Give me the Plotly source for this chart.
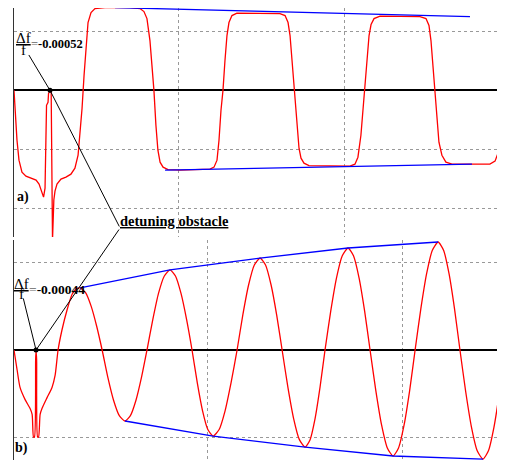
import plotly.graph_objects as go

# ---------------- Panel a) : square-like oscillation ----------------
a_t = [0.006, 0.012, 0.024, 0.036, 0.054, 0.078, 0.108, 0.139, 0.157, 0.175,
       0.184, 0.193, 0.199, 0.202, 0.211, 0.214, 0.223, 0.230, 0.238, 0.246,
       0.253, 0.265, 0.289, 0.319, 0.349, 0.373, 0.392, 0.404, 0.416, 0.428,
       0.440, 0.452, 0.470, 0.494, 0.554, 0.705, 0.765, 0.789, 0.807, 0.825,
       0.837, 0.849, 0.861, 0.873, 0.886, 0.904, 0.934, 1.006, 1.187, 1.211,
       1.229, 1.241, 1.253, 1.265, 1.277, 1.289, 1.301, 1.319, 1.349, 1.428,
       1.608, 1.639, 1.657, 1.669, 1.681, 1.696, 1.711, 1.723, 1.735, 1.753,
       1.783, 2.030, 2.060, 2.078, 2.096, 2.108, 2.120, 2.133, 2.145, 2.157,
       2.175, 2.211, 2.452, 2.488, 2.506, 2.518, 2.530, 2.542, 2.554, 2.566,
       2.584, 2.608, 2.645, 2.873, 2.904, 2.922, 2.940, 2.952, 2.964]
a_v = [0.000, -0.305, -0.847, -1.186, -1.390, -1.458, -1.492, -1.525, -1.593, -1.729,
       -1.814, -1.661, -1.017, -0.254, -0.203, -0.051, -0.017, -0.034, -2.542, -1.864,
       -1.712, -1.593, -1.508, -1.475, -1.424, -1.322, -1.102, -0.763, -0.305, 0.254,
       0.763, 1.153, 1.322, 1.390, 1.407, 1.407, 1.390, 1.339, 1.220, 0.847,
       0.424, 0.000, -0.593, -1.017, -1.220, -1.305, -1.347, -1.356, -1.339, -1.305,
       -1.186, -0.847, -0.339, 0.000, 0.508, 0.932, 1.153, 1.271, 1.314, 1.314,
       1.305, 1.271, 1.153, 0.932, 0.508, 0.000, -0.593, -0.983, -1.153, -1.237,
       -1.280, -1.288, -1.254, -1.136, -0.763, -0.339, 0.000, 0.508, 0.932, 1.119,
       1.220, 1.263, 1.254, 1.220, 1.102, 0.847, 0.424, 0.000, -0.508, -0.881,
       -1.102, -1.220, -1.254, -1.254, -1.203, -1.068, -0.678, -0.339, -0.169]
a_env_top_t = [0.614, 2.753]
a_env_top_v = [1.407, 1.254]
a_env_bot_t = [0.916, 2.765]
a_env_bot_v = [-1.356, -1.254]
a_obstacle_t = [0.223]
a_obstacle_v = [0.0]
a_label_tail = (0.090, 0.627)
a_junction = (0.645, -2.339)

# ---------------- Panel b) : growing sinusoidal oscillation ----------------
b_t = [0.010, 0.026, 0.041, 0.067, 0.092, 0.103, 0.110, 0.115, 0.121, 0.123,
       0.126, 0.131, 0.136, 0.144, 0.154, 0.179, 0.205, 0.221, 0.236, 0.256,
       0.282, 0.308, 0.328, 0.349,
       0.377, 0.4055, 0.434, 0.462, 0.491, 0.5205, 0.550, 0.579,
       0.607, 0.6355, 0.664, 0.692, 0.722, 0.751, 0.781, 0.810,
       0.838, 0.8665, 0.895, 0.923, 0.950, 0.977, 1.004, 1.031,
       1.062, 1.0925, 1.123, 1.154, 1.1835, 1.213, 1.2425, 1.272,
       1.300, 1.3285, 1.357, 1.385, 1.4145, 1.444, 1.4735, 1.503,
       1.5285, 1.554, 1.5795, 1.605, 1.6345, 1.664, 1.6935, 1.723,
       1.751, 1.7795, 1.808, 1.836, 1.8655, 1.895, 1.9245, 1.954,
       1.982, 2.0105, 2.039, 2.067, 2.0965, 2.126, 2.1555, 2.185,
       2.213, 2.241, 2.269, 2.297, 2.3265, 2.356, 2.3855, 2.415,
       2.443, 2.4715, 2.500, 2.528]
b_v = [0.000, -0.230, -0.430, -0.570, -0.670, -0.740, -1.000, -1.000, -0.110, -0.010,
       -0.110, -1.000, -1.000, -0.740, -0.670, -0.550, -0.430, -0.290, 0.000, 0.230,
       0.460, 0.640, 0.700, 0.713,
       0.659, 0.504, 0.273, 0.000, -0.312, -0.577, -0.754, -0.816,
       -0.754, -0.577, -0.312, 0.000, 0.352, 0.650, 0.850, 0.920,
       0.850, 0.650, 0.352, 0.000, -0.378, -0.699, -0.914, -0.989,
       -0.914, -0.699, -0.378, 0.000, 0.404, 0.747, 0.977, 1.057,
       0.977, 0.747, 0.404, 0.000, -0.427, -0.788, -1.030, -1.115,
       -1.030, -0.788, -0.427, 0.000, 0.449, 0.829, 1.083, 1.172,
       1.083, 0.829, 0.449, 0.000, -0.466, -0.861, -1.125, -1.218,
       -1.125, -0.861, -0.466, 0.000, 0.475, 0.877, 1.147, 1.241,
       1.147, 0.877, 0.475, 0.000, -0.480, -0.886, -1.158, -1.253,
       -1.158, -0.886, -0.480, 0.000]
b_peak_t = [0.349, 0.810, 1.272, 1.723, 2.185]
b_peak_v = [0.713, 0.920, 1.057, 1.172, 1.241]
b_trough_t = [0.579, 1.031, 1.503, 1.954, 2.415]
b_trough_v = [-0.816, -0.989, -1.115, -1.218, -1.253]
b_obstacle_t = [0.123]
b_obstacle_v = [0.0]
b_label_tail = (0.056, 0.609)
b_junction = (0.554, 1.402)

RED = dict(color="#ff0000", width=1.3)
BLUE = dict(color="#0000ff", width=1.3)
SERIF = "Liberation Serif, DejaVu Serif, Times New Roman, serif"

fig = go.Figure()
fig.add_trace(go.Scatter(x=a_t, y=a_v, mode="lines", line=RED, xaxis="x", yaxis="y"))
fig.add_trace(go.Scatter(x=a_env_top_t, y=a_env_top_v, mode="lines", line=BLUE, xaxis="x", yaxis="y"))
fig.add_trace(go.Scatter(x=a_env_bot_t, y=a_env_bot_v, mode="lines", line=BLUE, xaxis="x", yaxis="y"))
fig.add_trace(go.Scatter(x=a_obstacle_t, y=a_obstacle_v, mode="markers",
                         marker=dict(color="black", size=5), xaxis="x", yaxis="y", cliponaxis=False))

fig.add_trace(go.Scatter(x=b_t, y=b_v, mode="lines", line=dict(RED, shape="spline", smoothing=0.6),
                         xaxis="x2", yaxis="y2"))
fig.add_trace(go.Scatter(x=b_peak_t, y=b_peak_v, mode="lines", line=BLUE, xaxis="x2", yaxis="y2"))
fig.add_trace(go.Scatter(x=b_trough_t, y=b_trough_v, mode="lines", line=BLUE, xaxis="x2", yaxis="y2"))
fig.add_trace(go.Scatter(x=b_obstacle_t, y=b_obstacle_v, mode="markers",
                         marker=dict(color="black", size=5), xaxis="x2", yaxis="y2", cliponaxis=False))

grid = dict(showgrid=True, gridcolor="#999999", gridwidth=1, griddash="dot",
            showticklabels=False, ticks="", dtick=1, tick0=0, fixedrange=True)

# the page body keeps its default 8 px margin, so the figure is 8 px smaller
fig.update_layout(
    width=497, height=452,
    margin=dict(l=6, r=0, t=0, b=0),
    paper_bgcolor="white", plot_bgcolor="white",
    showlegend=False, hovermode=False,
    xaxis=dict(grid, domain=[0, 1], range=[0.006, 2.964], anchor="y", zeroline=False, showline=False),
    yaxis=dict(grid, domain=[0.4934, 1], range=[-2.492, 1.40], anchor="x",
               zeroline=True, zerolinecolor="black", zerolinewidth=2,
               showline=True, linecolor="#333333", linewidth=1),
    xaxis2=dict(grid, domain=[0, 1], range=[0.010, 2.528], anchor="y2", zeroline=False, showline=False),
    yaxis2=dict(grid, domain=[0, 0.4867], range=[-1.264, 1.264], anchor="x2",
                zeroline=True, zerolinecolor="black", zerolinewidth=2,
                showline=True, linecolor="#333333", linewidth=1.2),
)

def pointer(xr, yr, tail, head):
    fig.add_annotation(x=head[0], y=head[1], xref=xr, yref=yr,
                       ax=tail[0], ay=tail[1], axref=xr, ayref=yr,
                       text="", showarrow=True, arrowhead=0, arrowwidth=1,
                       arrowcolor="black", standoff=0, startstandoff=0, font=dict(size=1))

pointer("x", "y", a_junction, (a_obstacle_t[0], a_obstacle_v[0]))
pointer("x", "y", a_label_tail, (a_obstacle_t[0], a_obstacle_v[0]))
pointer("x2", "y2", b_junction, (b_obstacle_t[0], b_obstacle_v[0]))
pointer("x2", "y2", b_label_tail, (b_obstacle_t[0], b_obstacle_v[0]))

def label(xr, yr, x, y, text, size, xanchor="left"):
    fig.add_annotation(x=x, y=y, xref=xr, yref=yr, text=text, showarrow=False,
                       xanchor=xanchor, yanchor="middle", borderpad=0,
                       font=dict(family=SERIF, size=size, color="black"))

# panel a labels
label("x", "y", 0.066, 0.885, "<u>Δf</u>", 15, "center")
label("x", "y", 0.066, 0.690, "f", 15, "center")
label("x", "y", 0.104, 0.780, "<span style='color:#666'>=</span><b>-0.00052</b>", 12.5)
label("x", "y", 0.016, -1.81, "<b>a)</b>", 14)
label("x", "y", 0.640, -2.220, "<b><u>detuning obstacle</u></b>", 14.5)

# panel b labels
label("x2", "y2", 0.046, 0.763, "<u>Δf</u>", 15, "center")
label("x2", "y2", 0.046, 0.640, "f", 15, "center")
label("x2", "y2", 0.082, 0.701, "<span style='color:#666'>=</span><b>-0.00044</b>", 13.5)
label("x2", "y2", 0.012, -1.126, "<b>b)</b>", 14)

fig.write_html("out.html")
